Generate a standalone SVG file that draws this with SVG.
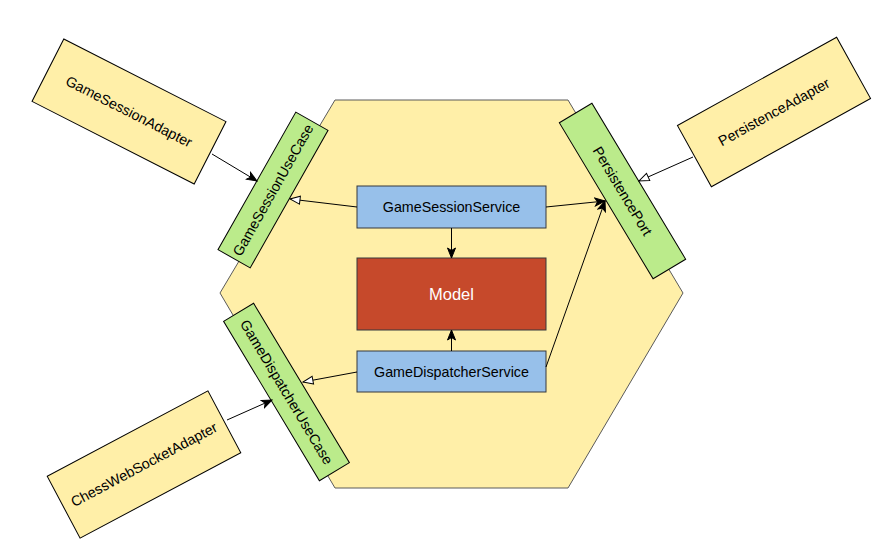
<svg xmlns="http://www.w3.org/2000/svg" width="893" height="560" viewBox="0 0 893 560">
<style>
.hex{fill:#FFEFA8;stroke:#5a5a5a;stroke-width:1}
.adapter{fill:#FFEFA8;stroke:#000;stroke-width:1}
.port{fill:#BBEB8B;stroke:#000;stroke-width:1}
.service{fill:#97C0EA;stroke:#36393d;stroke-width:1}
.model{fill:#C6492B;stroke:#36393d;stroke-width:1}
text{font-family:"Liberation Sans",Arial,Helvetica,sans-serif;font-size:14.3px;fill:#000;text-anchor:middle;dominant-baseline:central}
.white{fill:#fff;font-size:16.5px}
.conn line{stroke:#000;stroke-width:1;fill:none}
</style>
<defs>
<marker id="filled" markerUnits="userSpaceOnUse" markerWidth="12" markerHeight="10" viewBox="0 0 12 10" refX="11" refY="5" orient="auto">
<path d="M1,1 L11,5 L1,9 L3.5,5 Z" fill="#000" stroke="#000" stroke-width="1"/>
</marker>
<marker id="hollow" markerUnits="userSpaceOnUse" markerWidth="12" markerHeight="10" viewBox="0 0 12 10" refX="11" refY="5" orient="auto">
<path d="M1,1 L11,5 L1,9 Z" fill="#fff" stroke="#000" stroke-width="1"/>
</marker>
</defs>
<g id="hexagon">
<polygon class="hex" points="335,100 568,100 683,293 568,488 335,488 220,293"/>
</g>
<g id="GameSessionAdapter" transform="translate(129,111.5) rotate(27)">
<rect class="adapter" x="-91" y="-35" width="182" height="70"/>
<text x="0" y="0">GameSessionAdapter</text>
</g>
<g id="PersistenceAdapter" transform="translate(774,112) rotate(-29)">
<rect class="adapter" x="-91" y="-35" width="182" height="70"/>
<text x="0" y="0">PersistenceAdapter</text>
</g>
<g id="ChessWebSocketAdapter" transform="translate(144,464.5) rotate(-28)">
<rect class="adapter" x="-91" y="-35" width="182" height="70"/>
<text x="0" y="0">ChessWebSocketAdapter</text>
</g>
<g id="GameSessionUseCase" transform="translate(273,190) rotate(-60.5)">
<rect class="port" x="-79" y="-18.5" width="158" height="37"/>
<text x="0" y="0">GameSessionUseCase</text>
</g>
<g id="PersistencePort" transform="translate(622.5,191) rotate(59)">
<rect class="port" x="-91" y="-19" width="182" height="38"/>
<text x="0" y="0">PersistencePort</text>
</g>
<g id="GameDispatcherUseCase" transform="translate(286.5,392) rotate(59)">
<rect class="port" x="-93" y="-17.5" width="186" height="35"/>
<text x="0" y="0">GameDispatcherUseCase</text>
</g>
<g id="GameSessionService">
<rect class="service" x="357" y="186" width="189" height="42"/>
<text x="451.5" y="207">GameSessionService</text>
</g>
<g id="Model">
<rect class="model" x="357" y="258" width="189" height="72"/>
<text class="white" x="451.5" y="294">Model</text>
</g>
<g id="GameDispatcherService">
<rect class="service" x="357" y="351" width="189" height="41"/>
<text x="451.5" y="371.5">GameDispatcherService</text>
</g>
<g class="conn" id="connectors">
<line x1="212" y1="154" x2="257" y2="181" marker-end="url(#filled)"/>
<line x1="227" y1="420" x2="272" y2="400" marker-end="url(#filled)"/>
<line x1="693" y1="157" x2="639" y2="181" marker-end="url(#hollow)"/>
<line x1="357" y1="207" x2="290" y2="199" marker-end="url(#hollow)"/>
<line x1="546" y1="207" x2="605" y2="201" marker-end="url(#filled)"/>
<line x1="546" y1="367" x2="605" y2="201" marker-end="url(#filled)"/>
<line x1="357" y1="372" x2="303" y2="382" marker-end="url(#hollow)"/>
<line x1="451.5" y1="228" x2="451.5" y2="258" marker-end="url(#filled)"/>
<line x1="451.5" y1="351" x2="451.5" y2="330" marker-end="url(#filled)"/>
</g>
</svg>
